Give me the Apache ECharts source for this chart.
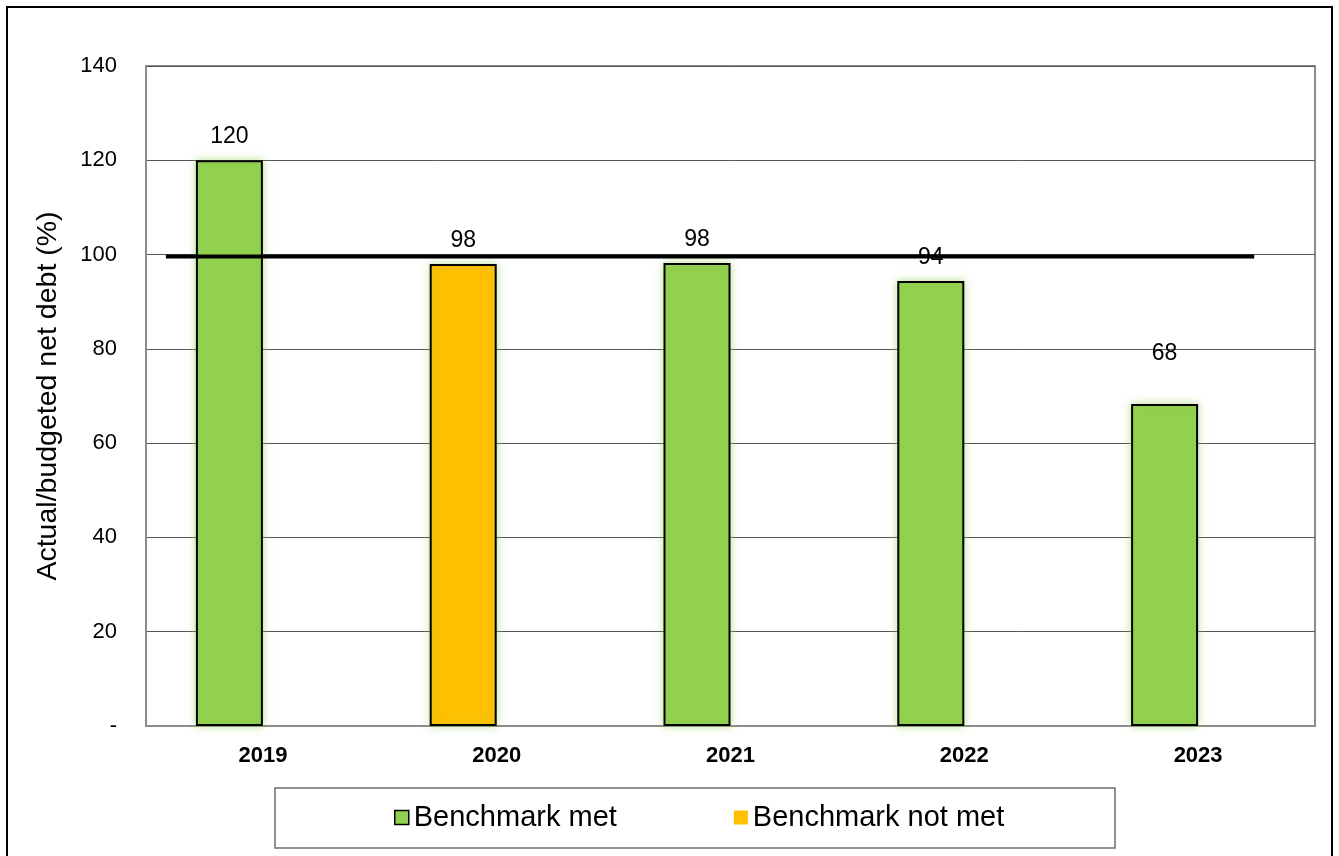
<!DOCTYPE html>
<html>
<head>
<meta charset="utf-8">
<script src="https://cdn.jsdelivr.net/npm/echarts@6/dist/echarts.min.js"></script>
<style>
html,body{margin:0;padding:0;background:#fff;}
#chart{width:1339px;height:856px;}
</style>
</head>
<body>
<div id="chart"></div>
<script>
// ---- data ----
var years = ['2019', '2020', '2021', '2022', '2023'];
var benchmarkMet = [120, null, 98.2, 94.4, 68.3];
var benchmarkNotMet = [null, 98.0, null, null, null];
var yTicks = [0, 20, 40, 60, 80, 100, 120, 140];
var benchmarkLevel = 99.6;
var benchmarkSpan = [0.085, 4.74]; // in category units along x
var seriesNames = ['Benchmark met', 'Benchmark not met'];
var yAxisTitle = 'Actual/budgeted net debt (%)';

var FONT = '"Liberation Sans", Arial, sans-serif';
var GREEN = '#92D050', YELLOW = '#FFC000';

function makeLabel() {
  return {show: true, position: 'top', distance: 12, color: '#000', fontSize: 23, fontFamily: FONT,
    formatter: function (p) { return Math.round(p.value); }};
}
function buildData(arr) {
  return arr.map(function (v, i) {
    if (v == null) return null;
    var item = {value: v};
    if (i === 4) item.label = {distance: 39};
    return item;
  });
}

var chart = echarts.init(document.getElementById('chart'), null, {renderer: 'canvas'});
var option = {
  animation: false,
  backgroundColor: '#fff',
  textStyle: {fontFamily: FONT},
  graphic: [
    {type: 'rect', shape: {x: 7, y: 7, width: 1325, height: 900}, style: {fill: 'none', stroke: '#000', lineWidth: 2}, z: 100},
    {type: 'rect', shape: {x: 275, y: 788, width: 840, height: 60}, style: {fill: 'none', stroke: '#6e6e6e', lineWidth: 1.5}, z: 100}
  ],
  legend: {
    left: 389, top: 798, itemWidth: 14, itemHeight: 14, itemGap: 117,
    textStyle: {fontSize: 29, color: '#000', fontFamily: FONT},
    data: [
      {name: seriesNames[0], icon: 'rect', itemStyle: {color: GREEN, borderColor: '#000', borderWidth: 1.5}},
      {name: seriesNames[1], icon: 'rect', itemStyle: {color: YELLOW, borderWidth: 0}}
    ]
  },
  grid: {left: 146, top: 66, width: 1169, height: 660, show: true, borderColor: '#8c8c8c', borderWidth: 2, containLabel: false},
  xAxis: [
    {type: 'category', data: years, axisLine: {show: true, lineStyle: {color: '#8c8c8c', width: 2}},
      axisTick: {show: false},
      axisLabel: {color: '#000', fontSize: 22, fontWeight: 'bold', margin: 19, fontFamily: FONT}},
    {type: 'value', min: 0, max: years.length, show: false}
  ],
  yAxis: {
    type: 'value', min: yTicks[0], max: yTicks[yTicks.length - 1], interval: 20,
    name: yAxisTitle, nameLocation: 'middle', nameGap: 83, nameRotate: 90,
    nameTextStyle: {fontSize: 28.5, color: '#000', fontFamily: FONT},
    axisLine: {show: true, lineStyle: {color: '#8c8c8c', width: 2}},
    axisTick: {show: false},
    axisLabel: {color: '#000', fontSize: 22, margin: 29, fontFamily: FONT,
      formatter: function (v) { return v === 0 ? '-' : String(v); }},
    splitLine: {show: true, lineStyle: {color: '#555', width: 1}}
  },
  series: [
    {name: seriesNames[0], type: 'bar', stack: 's', barWidth: 67, data: buildData(benchmarkMet),
      itemStyle: {color: GREEN, borderColor: '#000', borderWidth: 2, shadowBlur: 8, shadowColor: 'rgba(146,208,80,0.6)'},
      label: makeLabel(), z: 2},
    {name: seriesNames[1], type: 'bar', stack: 's', barWidth: 67, data: buildData(benchmarkNotMet),
      itemStyle: {color: YELLOW, borderColor: '#000', borderWidth: 2, shadowBlur: 8, shadowColor: 'rgba(146,208,80,0.5)'},
      label: makeLabel(), z: 2},
    {name: 'spacer', type: 'bar', stack: 'e', barWidth: 67, barGap: '0%', data: years.map(function () { return null; }), silent: true},
    {name: 'benchmark', type: 'line', xAxisIndex: 1, symbol: 'none', silent: true, z: 5,
      lineStyle: {color: '#000', width: 4},
      data: [[benchmarkSpan[0], benchmarkLevel], [benchmarkSpan[1], benchmarkLevel]]}
  ]
};
chart.setOption(option);
</script>
</body>
</html>
